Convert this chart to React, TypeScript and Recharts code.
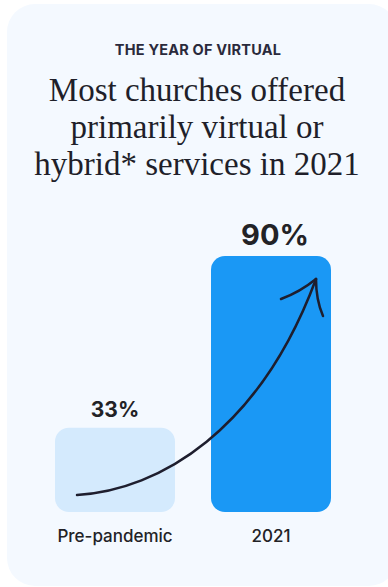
import React from 'react';
import { BarChart, Bar, XAxis, YAxis, Cell, LabelList } from 'recharts';

const categories = ['Pre-pandemic', '2021'];
const shares = [33, 90];
const valueLabels = ['33%', '90%'];
const barColors = ['#D4EAFD', '#1A98F5'];
const labelSizes = [21, 29];
const eyebrow = 'THE YEAR OF VIRTUAL';
const headlineLines = ['Most churches offered', 'primarily virtual or', 'hybrid* services in 2021'];

const data = categories.map((c, i) => ({ name: c, value: shares[i], label: valueLabels[i] }));

const ValueLabel = (props: any) => {
  const x = props.x ?? props.viewBox?.x ?? 0;
  const y = props.y ?? props.viewBox?.y ?? 0;
  const width = props.width ?? props.viewBox?.width ?? 0;
  const index = props.index ?? 0;
  return (
    <text
      x={x + width / 2 + (index === 1 ? 4 : 0)}
      y={y - 11}
      textAnchor="middle"
      fontFamily="Inter, sans-serif"
      fontWeight={700}
      fontSize={labelSizes[index]}
      fill="#222226"
    >
      {valueLabels[index]}
    </text>
  );
};

const CategoryTick = (props: any) => {
  const { x, y, payload } = props;
  return (
    <text
      x={x}
      y={y}
      dy={22}
      textAnchor="middle"
      fontFamily="Inter, sans-serif"
      fontWeight={500}
      fontSize={17}
      fill="#222226"
    >
      {payload.value}
    </text>
  );
};

export default function App() {
  return (
    <div style={{ position: 'absolute', left: 0, top: 0, width: 388, height: 587, background: '#ffffff', overflow: 'hidden' }}>
      <div
        style={{
          position: 'absolute',
          left: 7,
          top: 4,
          width: 390,
          height: 582,
          borderRadius: 28,
          background: '#F4F9FF',
        }}
      />
      <div style={{ position: 'absolute', left: 0, top: 0 }}>
        <BarChart width={388} height={587} data={data} margin={{ top: 256, right: 39, bottom: 45, left: 37 }}>
          <XAxis dataKey="name" axisLine={false} tickLine={false} height={30} tick={<CategoryTick />} interval={0} />
          <YAxis hide domain={[5, 90]} allowDataOverflow />
          <Bar dataKey="value" barSize={120} radius={14} isAnimationActive={false}>
            {data.map((d, i) => (
              <Cell key={d.name} fill={barColors[i]} />
            ))}
            <LabelList dataKey="label" content={<ValueLabel />} />
          </Bar>
        </BarChart>
      </div>
      <svg width={388} height={587} style={{ position: 'absolute', left: 0, top: 0, pointerEvents: 'none' }}>
        <text x={198} y={55} textAnchor="middle" fontFamily="Inter, sans-serif" fontWeight={700} fontSize={14.5} letterSpacing={0.2} fill="#2A2A3C">
          {eyebrow}
        </text>
        {headlineLines.map((line, i) => (
          <text
            key={line}
            x={197}
            y={101 + i * 37}
            textAnchor="middle"
            fontFamily="'Liberation Serif', serif"
            fontSize={33}
            fill="#1F1F2A"
          >
            {line}
          </text>
        ))}
        <g fill="none" stroke="#1E1E2E" strokeWidth={2.5} strokeLinecap="round" strokeLinejoin="round">
          <path d="M77,495 C160,490 260,430 316,279" />
          <path d="M281,299 Q300,292 316,279" />
          <path d="M316,279 Q316,300 323,316" />
        </g>
      </svg>
    </div>
  );
}
